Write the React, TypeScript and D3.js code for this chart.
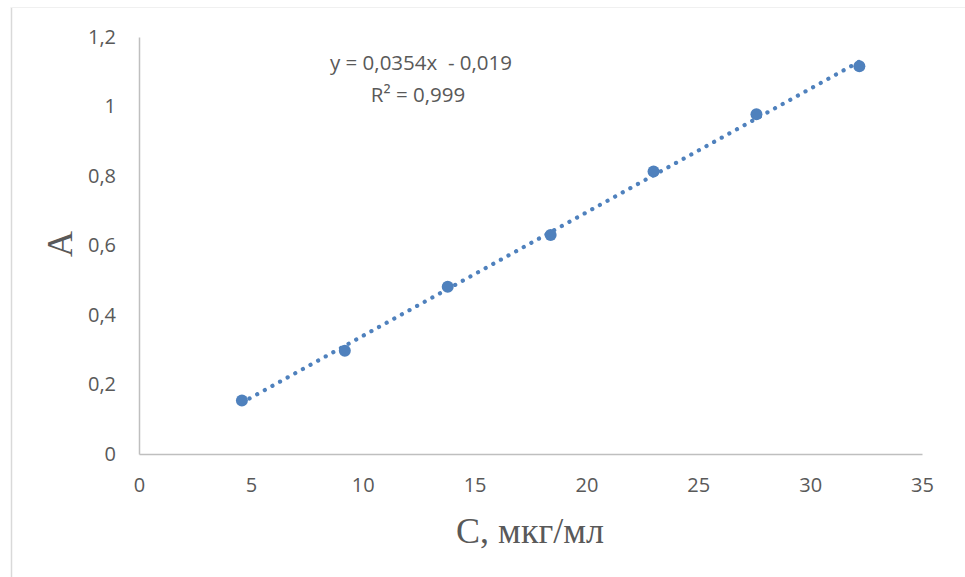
import React, { useEffect, useRef } from "react";
import * as d3 from "d3";

// концентрация, мкг/мл
const concentration = [4.6, 9.2, 13.8, 18.4, 23, 27.6, 32.2];
// оптическая плотность
const absorbance = [0.154, 0.297, 0.481, 0.63, 0.813, 0.978, 1.116];

const xTicks = [0, 5, 10, 15, 20, 25, 30, 35];
const yTicks = [0, 0.2, 0.4, 0.6, 0.8, 1, 1.2];

const equationLines = ["y = 0,0354x  - 0,019", "R² = 0,999"];
const xTitle = "С, мкг/мл";
const yTitle = "А";

const W = 965;
const H = 577;
const margin = { top: 37, right: 43, bottom: 123, left: 139 };

const blue = "#4F81BD";
const grey = "#595959";
const tickFont = "'Open Sans', 'Liberation Sans', sans-serif";
const titleFont = "'Liberation Serif', 'DejaVu Serif', serif";

const fmt = (v: number) => String(+v.toFixed(2)).replace(".", ",");

export default function App() {
  const ref = useRef<SVGSVGElement | null>(null);

  useEffect(() => {
    const svg = d3.select(ref.current);
    svg.selectAll("*").remove();

    const x = d3.scaleLinear().domain([0, 35]).range([margin.left, W - margin.right]);
    const y = d3.scaleLinear().domain([0, 1.2]).range([H - margin.bottom, margin.top]);

    // chart area border (only left/top visible in the crop)
    svg.append("line")
      .attr("x1", 11.5).attr("x2", 11.5).attr("y1", 7).attr("y2", H)
      .attr("stroke", "#d9d9d9").attr("stroke-width", 1.5);
    svg.append("line")
      .attr("x1", 11).attr("x2", W).attr("y1", 7.5).attr("y2", 7.5)
      .attr("stroke", "#f0f0f0").attr("stroke-width", 1);

    // x axis
    const xAxis = svg.append("g")
      .attr("transform", `translate(0,${y(0)})`)
      .call(d3.axisBottom(x).tickValues(xTicks).tickSize(0).tickPadding(24).tickFormat((d) => fmt(+d)));
    xAxis.select(".domain").attr("stroke", "#bfbfbf").attr("stroke-width", 1.5);
    xAxis.selectAll("text")
      .attr("fill", grey).attr("font-size", 20).attr("font-family", tickFont);

    // y axis
    const yAxis = svg.append("g")
      .attr("transform", `translate(${x(0)},0)`)
      .call(d3.axisLeft(y).tickValues(yTicks).tickSize(0).tickPadding(23).tickFormat((d) => fmt(+d)));
    yAxis.select(".domain").attr("stroke", "#bfbfbf").attr("stroke-width", 1.5);
    yAxis.selectAll("text")
      .attr("fill", grey).attr("font-size", 20).attr("font-family", tickFont);

    // linear trendline from least squares on the data
    const mx = d3.mean(concentration) as number;
    const my = d3.mean(absorbance) as number;
    const sxy = d3.sum(concentration, (c, i) => (c - mx) * (absorbance[i] - my));
    const sxx = d3.sum(concentration, (c) => (c - mx) * (c - mx));
    const slope = sxy / sxx;
    const intercept = my - slope * mx;
    const ends = d3.extent(concentration) as [number, number];

    svg.append("path")
      .attr("d", d3.line<number>().x((c) => x(c)).y((c) => y(slope * c + intercept))(ends))
      .attr("fill", "none")
      .attr("stroke", blue)
      .attr("stroke-width", 4.2)
      .attr("stroke-linecap", "round")
      .attr("stroke-dasharray", "0.1 8.6");

    // data points
    svg.append("g").selectAll("circle")
      .data(concentration)
      .join("circle")
      .attr("cx", (c) => x(c))
      .attr("cy", (_, i) => y(absorbance[i]))
      .attr("r", 6)
      .attr("fill", blue);

    // equation label
    svg.append("text")
      .attr("x", 421).attr("y", 70)
      .attr("text-anchor", "middle")
      .attr("fill", grey).attr("font-size", 20.5).attr("font-family", tickFont)
      .style("white-space", "pre")
      .text(equationLines[0]);
    svg.append("text")
      .attr("x", 418).attr("y", 102)
      .attr("text-anchor", "middle")
      .attr("fill", grey).attr("font-size", 20.5).attr("font-family", tickFont)
      .text(equationLines[1]);

    // axis titles
    svg.append("text")
      .attr("x", 530).attr("y", 543)
      .attr("text-anchor", "middle")
      .attr("fill", grey).attr("font-size", 36).attr("font-family", titleFont)
      .text(xTitle);
    svg.append("text")
      .attr("transform", "translate(72,244) rotate(-90)")
      .attr("text-anchor", "middle")
      .attr("fill", grey).attr("font-size", 36).attr("font-family", titleFont)
      .text(yTitle);
  }, []);

  return (
    <svg
      ref={ref}
      width={W}
      height={H}
      style={{ position: "absolute", left: 0, top: 0, background: "#fff" }}
    />
  );
}
